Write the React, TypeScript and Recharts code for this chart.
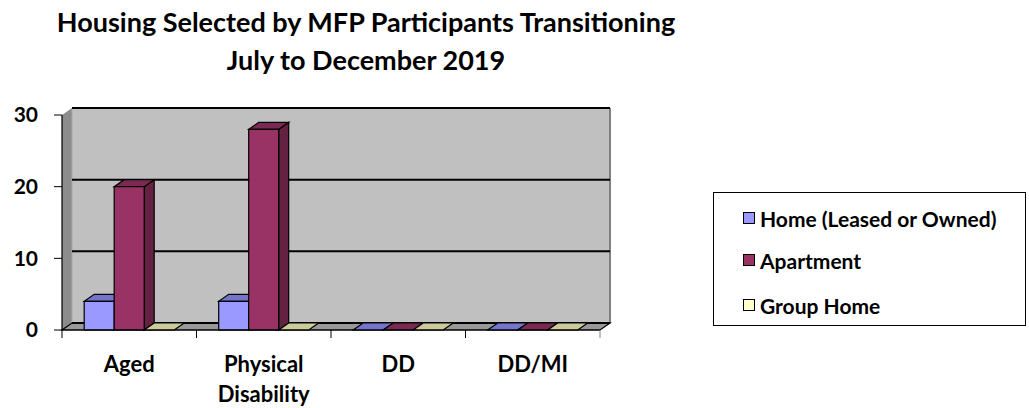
import React from "react";
import {
  BarChart,
  Bar,
  XAxis,
  YAxis,
  CartesianGrid,
  ReferenceArea,
  Legend,
} from "recharts";

const categories = ["Aged", "Physical Disability", "DD", "DD/MI"];
const homeValues = [4, 4, 0, 0];
const apartmentValues = [20, 28, 0, 0];
const groupHomeValues = [0, 0, 0, 0];
const yTicks = [0, 10, 20, 30];

const seriesNames = ["Home (Leased or Owned)", "Apartment", "Group Home"];

const W = 1029;
const H = 408;
const MARGIN = { top: 115, right: 429, bottom: 0, left: 0 };
const Y_AXIS_W = 62;
const PLOT_W = W - MARGIN.left - MARGIN.right - Y_AXIS_W;
const DX = 10;
const DY = 7;
const FONT = "Lato, 'Open Sans', sans-serif";

const colors = {
  home: { front: "#9999FF", top: "#7474CC", side: "#5C5CA8" },
  apartment: { front: "#993366", top: "#7A2950", side: "#652142" },
  groupHome: { front: "#FFFFCC", top: "#CCCC9A", side: "#A6A67E" },
};

const data = categories.map((name, i) => ({
  name,
  home: homeValues[i],
  apartment: apartmentValues[i],
  groupHome: groupHomeValues[i],
}));

function pts(list: number[][]) {
  return list.map((p) => p.join(",")).join(" ");
}

function Box3D(props: any) {
  const { x, y, width, height, c } = props;
  if (x == null || y == null) return null;
  const w = width;
  const h = Math.max(0, height || 0);
  const topFace = pts([
    [x, y],
    [x + w, y],
    [x + w + DX, y - DY],
    [x + DX, y - DY],
  ]);
  if (h < 0.5) {
    return <polygon points={topFace} fill={c.top} stroke="#000" strokeWidth={1.2} />;
  }
  const sideFace = pts([
    [x + w, y],
    [x + w + DX, y - DY],
    [x + w + DX, y + h - DY],
    [x + w, y + h],
  ]);
  return (
    <g>
      <polygon points={sideFace} fill={c.side} stroke="#000" strokeWidth={1.2} />
      <polygon points={topFace} fill={c.top} stroke="#000" strokeWidth={1.2} />
      <rect x={x} y={y} width={w} height={h} fill={c.front} stroke="#000" strokeWidth={1.2} />
    </g>
  );
}

function Walls(props: any) {
  const { x, y, width, height } = props;
  const b = y + height;
  return (
    <g>
      <rect x={x + DX} y={y - DY} width={width} height={height} fill="#C0C0C0" />
      <line x1={x + width + DX} y1={y - DY} x2={x + width + DX} y2={b - DY} stroke="#808080" strokeWidth={2} />
      <polygon
        points={pts([
          [x, y],
          [x + DX, y - DY],
          [x + DX, b - DY],
          [x, b],
        ])}
        fill="#8C8C8C"
      />
      <line x1={x + DX} y1={y - DY} x2={x + DX} y2={b - DY} stroke="#A8A8A8" strokeWidth={1} />
      <polygon
        points={pts([
          [x, b],
          [x + width, b],
          [x + width + DX, b - DY],
          [x + DX, b - DY],
        ])}
        fill="#999999"
        stroke="#000"
        strokeWidth={1.2}
      />
    </g>
  );
}

function GridLine(p: any) {
  return (
    <line
      key={`grid-${p.index}`}
      x1={p.x1 + DX}
      y1={p.y1 - DY}
      x2={p.x2 + DX}
      y2={p.y2 - DY}
      stroke="#000"
      strokeWidth={2}
    />
  );
}

function CategoryTick(props: any) {
  const { x, y, payload, index } = props;
  const band = PLOT_W / categories.length;
  const lines = String(payload.value).split(" ");
  return (
    <g>
      <line x1={x - band / 2} y1={y - 8} x2={x - band / 2} y2={y} stroke="#000" />
      {index === categories.length - 1 && (
        <line x1={x + band / 2} y1={y - 8} x2={x + band / 2} y2={y} stroke="#808080" />
      )}
      <text
        x={x}
        y={y + 34}
        textAnchor="middle"
        fontFamily={FONT}
        fontWeight={700}
        fontSize={22}
        fill="#000"
      >
        {lines.map((l, i) => (
          <tspan key={i} x={x} dy={i === 0 ? 0 : 30}>
            {l}
          </tspan>
        ))}
      </text>
    </g>
  );
}

function LegendBox(props: any) {
  const payload = [...(props.payload || [])].sort(
    (a: any, b: any) => seriesNames.indexOf(a.value) - seriesNames.indexOf(b.value)
  );
  const rowTops = [25, 67, 112];
  return (
    <div
      style={{
        position: "relative",
        width: 313,
        height: 134,
        border: "1px solid #000",
        boxSizing: "border-box",
        background: "#fff",
        fontFamily: FONT,
        fontWeight: 700,
        fontSize: 21,
        color: "#000",
      }}
    >
      {payload.map((entry: any, i: number) => (
        <div
          key={entry.value}
          style={{
            position: "absolute",
            left: 29,
            top: rowTops[i] - 13,
            height: 26,
            display: "flex",
            alignItems: "center",
            whiteSpace: "nowrap",
          }}
        >
          <span
            style={{
              display: "inline-block",
              width: 10,
              height: 10,
              border: "1.5px solid #000",
              background: entry.color,
              marginRight: 5,
            }}
          />
          {entry.value}
        </div>
      ))}
    </div>
  );
}

export default function App() {
  return (
    <div
      style={{
        position: "absolute",
        left: 0,
        top: 0,
        width: W,
        height: H,
        background: "#fff",
      }}
    >
      <div
        style={{
          position: "absolute",
          left: 0,
          top: 3,
          width: 732,
          textAlign: "center",
          fontFamily: FONT,
          fontWeight: 700,
          fontSize: 27,
          lineHeight: "38px",
          color: "#000",
        }}
      >
        <div>Housing Selected by MFP Participants Transitioning</div>
        <div>July to December 2019</div>
      </div>
      <BarChart
        width={W}
        height={H}
        data={data}
        margin={MARGIN}
        barGap={0}
        barCategoryGap="16.5%"
      >
        <ReferenceArea y1={0} y2={30} shape={<Walls />} zIndex={-200} ifOverflow="visible" />
        <CartesianGrid vertical={false} horizontal={GridLine} />
        <XAxis
          dataKey="name"
          height={78}
          tickLine={false}
          tickSize={8}
          tickMargin={0}
          axisLine={{ stroke: "#000", strokeWidth: 1.2 }}
          tick={<CategoryTick />}
          interval={0}
        />
        <YAxis
          width={Y_AXIS_W}
          domain={[0, 30]}
          ticks={yTicks}
          tickSize={8}
          tickMargin={16}
          axisLine={{ stroke: "#000", strokeWidth: 1.2 }}
          tickLine={{ stroke: "#000" }}
          tick={{ fontFamily: FONT, fontWeight: 700, fontSize: 21, fill: "#000" }}
        />
        <Legend
          layout="horizontal"
          verticalAlign="middle"
          align="center"
          wrapperStyle={{ left: 713, top: 192, width: 313, height: 134 }}
          content={<LegendBox />}
        />
        <Bar
          dataKey="home"
          name={seriesNames[0]}
          fill={colors.home.front}
          isAnimationActive={false}
          shape={(p: any) => <Box3D {...p} c={colors.home} />}
        />
        <Bar
          dataKey="apartment"
          name={seriesNames[1]}
          fill={colors.apartment.front}
          isAnimationActive={false}
          shape={(p: any) => <Box3D {...p} c={colors.apartment} />}
        />
        <Bar
          dataKey="groupHome"
          name={seriesNames[2]}
          fill={colors.groupHome.front}
          isAnimationActive={false}
          shape={(p: any) => <Box3D {...p} c={colors.groupHome} />}
        />
      </BarChart>
    </div>
  );
}
